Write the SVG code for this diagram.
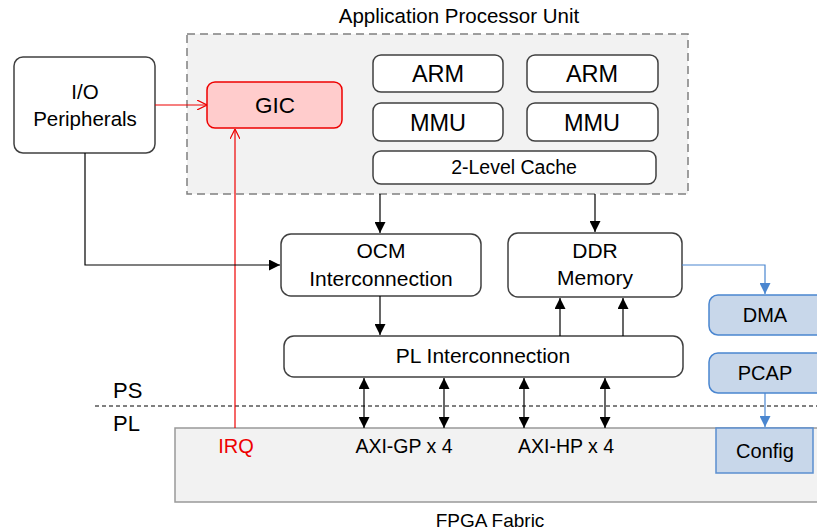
<svg xmlns="http://www.w3.org/2000/svg" width="817" height="531" viewBox="0 0 817 531">
<style>
text{font-family:"Liberation Sans",Arial,sans-serif;fill:#000;text-anchor:middle}
.box{fill:#fff;stroke:#404040;stroke-width:1.5}
.blue{fill:#c8d7ea;stroke:#4a86d0;stroke-width:1.5}
.k{stroke:#000;stroke-width:1.2;fill:none}
.r{stroke:#e00;stroke-width:1.2;fill:none}
.b{stroke:#4a86d0;stroke-width:1.2;fill:none}
</style>
<defs>
<marker id="ak" viewBox="0 0 10 10" refX="10" refY="5" markerWidth="11" markerHeight="11" markerUnits="userSpaceOnUse" orient="auto-start-reverse"><path d="M0,0 L10,5 L0,10 z" fill="#000"/></marker>
<marker id="ab" viewBox="0 0 10 10" refX="10" refY="5" markerWidth="11" markerHeight="11" markerUnits="userSpaceOnUse" orient="auto"><path d="M0,0 L10,5 L0,10 z" fill="#4a86d0"/></marker>
<marker id="ar" viewBox="0 0 10 10" refX="10" refY="5" markerWidth="10" markerHeight="10" markerUnits="userSpaceOnUse" orient="auto"><path d="M0,0 L10,5 L0,10" fill="none" stroke="#e00" stroke-width="1.2"/></marker>
</defs>

<g id="fpga">
<rect x="175" y="428" width="650" height="74" fill="#f2f2f2" stroke="#999" stroke-width="1.5"/>
<text x="490" y="527" font-size="19">FPGA Fabric</text>
<text x="236" y="453" font-size="20" style="fill:#e00">IRQ</text>
<text x="404" y="453" font-size="19.5">AXI-GP x 4</text>
<text x="566" y="453" font-size="19.5">AXI-HP x 4</text>
</g>

<g id="apu">
<rect x="187" y="34" width="501" height="160" fill="#f2f2f2" stroke="#808080" stroke-width="1.5" stroke-dasharray="8,5"/>
<text x="459" y="23" font-size="20.5">Application Processor Unit</text>
</g>

<g id="io"><rect class="box" x="14" y="57" width="141" height="96" rx="9"/>
<text x="85" y="99" font-size="20.5">I/O</text><text x="85" y="126" font-size="20.5">Peripherals</text></g>

<g id="gic"><rect x="207" y="82" width="135" height="46" rx="8" fill="#ffcccc" stroke="#e00" stroke-width="1.5"/>
<text x="275" y="113" font-size="22.5">GIC</text></g>

<g id="arm1"><rect class="box" x="373" y="55" width="130" height="37" rx="8"/><text x="438" y="82" font-size="23.5">ARM</text></g>
<g id="arm2"><rect class="box" x="527" y="55" width="131" height="37" rx="8"/><text x="592" y="82" font-size="23.5">ARM</text></g>
<g id="mmu1"><rect class="box" x="373" y="103" width="130" height="38" rx="8"/><text x="438" y="131" font-size="23.5">MMU</text></g>
<g id="mmu2"><rect class="box" x="527" y="103" width="131" height="38" rx="8"/><text x="592" y="131" font-size="23.5">MMU</text></g>
<g id="cache"><rect class="box" x="373" y="151" width="283" height="33" rx="8"/><text x="514" y="174" font-size="19.5">2-Level Cache</text></g>

<g id="ocm"><rect class="box" x="281" y="234" width="200" height="62" rx="10"/>
<text x="381" y="258" font-size="21">OCM</text><text x="381" y="286" font-size="21">Interconnection</text></g>

<g id="ddr"><rect class="box" x="508" y="233" width="174" height="64" rx="10"/>
<text x="595" y="258" font-size="21">DDR</text><text x="595" y="285" font-size="21">Memory</text></g>

<g id="pl"><rect class="box" x="284" y="336" width="399" height="41" rx="10"/>
<text x="483" y="363" font-size="21">PL Interconnection</text></g>

<g id="dma"><rect class="blue" x="709" y="295" width="120" height="40" rx="9"/><text x="765" y="322" font-size="20">DMA</text></g>
<g id="pcap"><rect class="blue" x="709" y="353" width="120" height="40" rx="9"/><text x="765" y="380" font-size="20">PCAP</text></g>
<g id="config"><rect x="716" y="428" width="97" height="45" fill="#c8d7ea" stroke="#5b8fd0" stroke-width="1.5"/><text x="765" y="458" font-size="20">Config</text></g>

<g id="divider">
<line x1="95" y1="406" x2="817" y2="406" stroke="#000" stroke-width="1" stroke-dasharray="4,3"/>
<text x="113" y="398" font-size="22" style="text-anchor:start">PS</text>
<text x="113" y="431" font-size="22" style="text-anchor:start">PL</text>
</g>

<g id="connectors">
<line class="r" x1="155" y1="105" x2="207" y2="105" marker-end="url(#ar)"/>
<line class="r" x1="235" y1="428" x2="235" y2="129" marker-end="url(#ar)"/>
<line class="k" x1="380" y1="194" x2="380" y2="233" marker-end="url(#ak)"/>
<line class="k" x1="595" y1="194" x2="595" y2="232" marker-end="url(#ak)"/>
<polyline class="k" points="85,153 85,265 280,265" marker-end="url(#ak)"/>
<line class="k" x1="380" y1="296" x2="380" y2="335" marker-end="url(#ak)"/>
<line class="k" x1="560" y1="336" x2="560" y2="298" marker-end="url(#ak)"/>
<line class="k" x1="623" y1="336" x2="623" y2="298" marker-end="url(#ak)"/>
<line class="k" x1="364" y1="378" x2="364" y2="428" marker-start="url(#ak)" marker-end="url(#ak)"/>
<line class="k" x1="444" y1="378" x2="444" y2="428" marker-start="url(#ak)" marker-end="url(#ak)"/>
<line class="k" x1="524" y1="378" x2="524" y2="428" marker-start="url(#ak)" marker-end="url(#ak)"/>
<line class="k" x1="605" y1="378" x2="605" y2="428" marker-start="url(#ak)" marker-end="url(#ak)"/>
<polyline class="b" points="682,265 765,265 765,294" marker-end="url(#ab)"/>
<line class="b" x1="765" y1="393" x2="765" y2="427" marker-end="url(#ab)"/>
</g>
</svg>
